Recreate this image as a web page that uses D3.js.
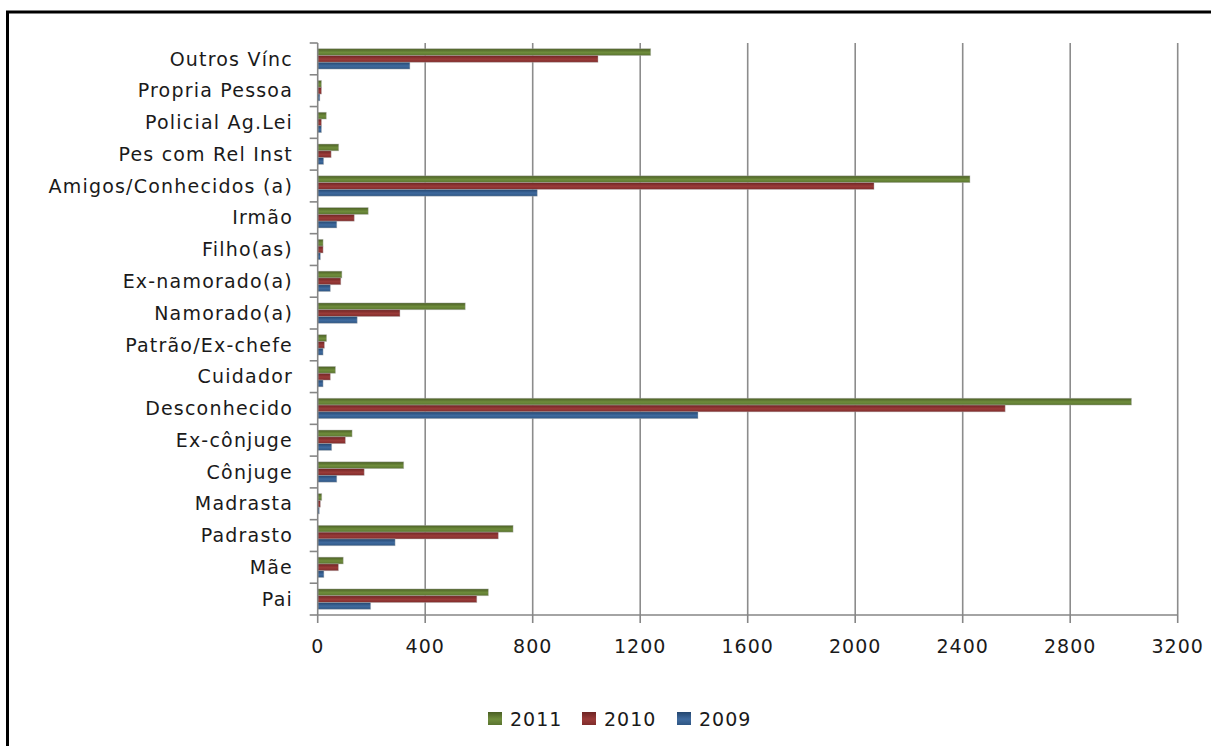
<!DOCTYPE html>
<html>
<head>
<meta charset="utf-8">
<script src="https://cdn.jsdelivr.net/npm/d3@7/dist/d3.min.js"></script>
<style>
  html, body { margin: 0; padding: 0; background: #fff; }
  svg { display: block; }
  text { font-family: "DejaVu Sans", sans-serif; fill: #1a1a1a; }
</style>
</head>
<body>
<svg id="chart" width="1211" height="746"></svg>
<script>
// Relationship categories, listed bottom to top as on the axis
const categories = [
  "Pai", "Mãe", "Padrasto", "Madrasta", "Cônjuge", "Ex-cônjuge",
  "Desconhecido", "Cuidador", "Patrão/Ex-chefe", "Namorado(a)",
  "Ex-namorado(a)", "Filho(as)", "Irmão", "Amigos/Conhecidos (a)",
  "Pes com Rel Inst", "Policial Ag.Lei", "Propria Pessoa", "Outros Vínc"
];

const values2009 = [197, 23, 288, 6, 71, 52, 1415, 20, 20, 147, 47, 10, 71, 817, 22, 14, 8, 343];
const values2010 = [592, 77, 672, 10, 173, 103, 2558, 47, 25, 306, 86, 20, 136, 2070, 50, 14, 14, 1043];
const values2011 = [635, 95, 727, 15, 320, 128, 3028, 66, 33, 549, 90, 20, 188, 2427, 78, 32, 14, 1239];

const seriesNames = ["2011", "2010", "2009"];
const xTicks = [0, 400, 800, 1200, 1600, 2000, 2400, 2800, 3200];

const series = [
  { name: "2011", values: values2011 },
  { name: "2010", values: values2010 },
  { name: "2009", values: values2009 }
];

const palette = {
  "2011": ["#4a5e24", "#6f8d3c", "#5a7430"],
  "2010": ["#6e2423", "#9a3b39", "#7f2c2b"],
  "2009": ["#24466f", "#3f6a9e", "#2e5683"]
};

const svg = d3.select("#chart");

// Outer frame
svg.append("rect")
  .attr("x", 7.5).attr("y", 12)
  .attr("width", 1240).attr("height", 800)
  .attr("fill", "none").attr("stroke", "#000").attr("stroke-width", 3);

// Bar gradients
const defs = svg.append("defs");
seriesNames.forEach(name => {
  const g = defs.append("linearGradient")
    .attr("id", "grad" + name)
    .attr("x1", 0).attr("y1", 0).attr("x2", 0).attr("y2", 1);
  const c = palette[name];
  g.append("stop").attr("offset", "0%").attr("stop-color", c[0]);
  g.append("stop").attr("offset", "55%").attr("stop-color", c[1]);
  g.append("stop").attr("offset", "100%").attr("stop-color", c[2]);
});

const plot = { left: 317.7, right: 1177.7, top: 43, bottom: 615 };

const x = d3.scaleLinear().domain([0, 3200]).range([plot.left, plot.right]);

const y = d3.scaleBand()
  .domain(categories.slice().reverse())
  .range([plot.top, plot.bottom])
  .paddingInner(0.36)
  .paddingOuter(0.18);

const yInner = d3.scaleBand()
  .domain(seriesNames)
  .range([0, y.bandwidth()]);

// Vertical gridlines
svg.append("g")
  .selectAll("line")
  .data(xTicks.filter(t => t > 0))
  .join("line")
  .attr("x1", d => x(d)).attr("x2", d => x(d))
  .attr("y1", plot.top).attr("y2", plot.bottom)
  .attr("stroke", "#8c8c8c").attr("stroke-width", 1.6);

// Bars
const groups = svg.append("g")
  .selectAll("g")
  .data(categories)
  .join("g")
  .attr("transform", d => `translate(0,${y(d)})`);

groups.selectAll("rect")
  .data((cat, i) => series.map(s => ({ name: s.name, value: s.values[i] })))
  .join("rect")
  .attr("x", x(0))
  .attr("y", d => yInner(d.name))
  .attr("width", d => x(d.value) - x(0))
  .attr("height", yInner.bandwidth())
  .attr("fill", d => `url(#grad${d.name})`)
  .attr("stroke", "rgba(180,180,180,0.5)")
  .attr("stroke-width", 0.8);

// Category axis with ticks between categories
const step = (plot.bottom - plot.top) / categories.length;
const yAxis = svg.append("g");
yAxis.append("line")
  .attr("x1", plot.left).attr("x2", plot.left)
  .attr("y1", plot.top).attr("y2", plot.bottom)
  .attr("stroke", "#868686").attr("stroke-width", 1.6);
yAxis.selectAll("line.tick")
  .data(d3.range(categories.length + 1))
  .join("line")
  .attr("class", "tick")
  .attr("x1", plot.left - 8).attr("x2", plot.left)
  .attr("y1", i => plot.top + i * step).attr("y2", i => plot.top + i * step)
  .attr("stroke", "#868686").attr("stroke-width", 1.6);
yAxis.selectAll("text")
  .data(categories)
  .join("text")
  .attr("x", 293)
  .attr("y", d => y(d) + y.bandwidth() / 2)
  .attr("dy", "0.35em")
  .attr("text-anchor", "end")
  .attr("font-size", 19)
  .attr("letter-spacing", 1.2)
  .text(d => d);

// Value axis
const xAxis = svg.append("g");
xAxis.append("line")
  .attr("x1", plot.left).attr("x2", plot.right)
  .attr("y1", plot.bottom).attr("y2", plot.bottom)
  .attr("stroke", "#868686").attr("stroke-width", 1.6);
xAxis.selectAll("line.tick")
  .data(xTicks)
  .join("line")
  .attr("class", "tick")
  .attr("x1", d => x(d)).attr("x2", d => x(d))
  .attr("y1", plot.bottom).attr("y2", plot.bottom + 8)
  .attr("stroke", "#868686").attr("stroke-width", 1.6);
xAxis.selectAll("text")
  .data(xTicks)
  .join("text")
  .attr("x", d => x(d))
  .attr("y", 653)
  .attr("text-anchor", "middle")
  .attr("font-size", 19)
  .attr("letter-spacing", 1)
  .text(d => d);

// Legend
const legendX = [488, 582, 677];
const legend = svg.append("g")
  .selectAll("g")
  .data(seriesNames)
  .join("g")
  .attr("transform", (d, i) => `translate(${legendX[i]},712)`);
legend.append("rect")
  .attr("width", 14).attr("height", 13)
  .attr("fill", d => `url(#grad${d})`);
legend.append("text")
  .attr("x", 22).attr("y", 13.5)
  .attr("font-size", 19)
  .attr("letter-spacing", 1)
  .text(d => d);
</script>
</body>
</html>
